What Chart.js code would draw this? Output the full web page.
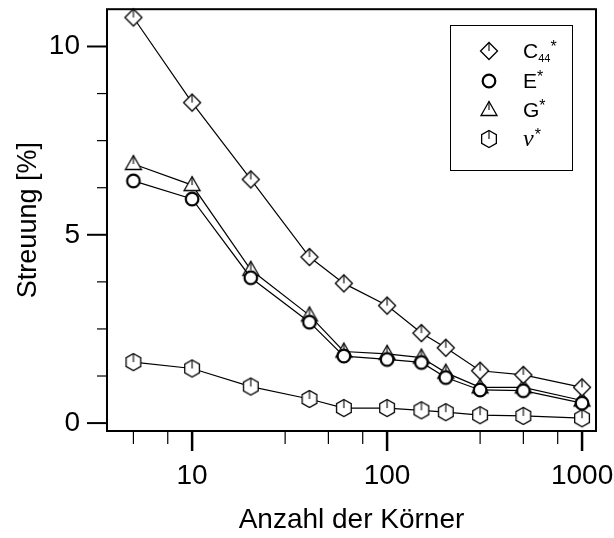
<!DOCTYPE html>
<html>
<head>
<meta charset="utf-8">
<script src="https://cdn.jsdelivr.net/npm/chart.js@4"></script>
<style>
  html, body { margin: 0; padding: 0; background: #fff; }
  #wrap { width: 614px; height: 538px; }
</style>
</head>
<body>
<div id="wrap"><canvas id="chart" width="614" height="538"></canvas></div>
<script>
// grain counts (x) and relative spread in percent for each quantity
const grainCounts = [5, 10, 20, 40, 60, 100, 150, 200, 300, 500, 1000];
const c44Spread = [10.77, 8.51, 6.47, 4.41, 3.71, 3.12, 2.39, 2.0, 1.39, 1.28, 0.95];
const eSpread = [6.43, 5.95, 3.86, 2.68, 1.78, 1.69, 1.61, 1.21, 0.88, 0.86, 0.53];
const gSpread = [6.88, 6.32, 4.07, 2.86, 1.90, 1.84, 1.74, 1.34, 0.95, 0.95, 0.60];
const nuSpread = [1.62, 1.45, 0.97, 0.64, 0.40, 0.40, 0.34, 0.29, 0.21, 0.19, 0.13];

const xMajorTicks = [10, 100, 1000];
const xMinorTicks = [5, 7.5, 30, 50, 75, 300, 500, 750];
const yMajorTicks = [0, 5, 10];
const yMinorTicks = [1.25, 2.5, 3.75, 6.25, 7.5, 8.75];

const FONT = "'Liberation Sans', Arial, Helvetica, sans-serif";

// hollow marker glyphs, rendered once and used as point styles
function makeMarker(kind) {
  const s = 24, c = s / 2;
  const cv = document.createElement('canvas');
  cv.width = s; cv.height = s;
  const g = cv.getContext('2d');
  g.fillStyle = '#fff';
  g.strokeStyle = '#000';
  g.lineWidth = 1.3;
  g.beginPath();
  let top = c;
  if (kind === 'diamond') {
    const r = 8.5;
    g.moveTo(c, c - r); g.lineTo(c + r, c); g.lineTo(c, c + r); g.lineTo(c - r, c);
    top = c - r;
  } else if (kind === 'circle') {
    g.lineWidth = 2.2;
    g.arc(c, c, 6.3, 0, Math.PI * 2);
  } else if (kind === 'triangle') {
    g.moveTo(c, c - 8.5); g.lineTo(c + 8, c + 5.5); g.lineTo(c - 8, c + 5.5);
    top = c - 8.5;
  } else {
    const r = 8.5;
    for (let i = 0; i < 6; i++) {
      const a = (-90 + 60 * i) * Math.PI / 180;
      const px = c + r * Math.cos(a), py = c + r * Math.sin(a);
      if (i === 0) g.moveTo(px, py); else g.lineTo(px, py);
    }
    top = c - r;
  }
  g.closePath();
  g.fill();
  g.stroke();
  if (kind !== 'circle') {
    g.beginPath();
    g.lineWidth = 1.1;
    g.moveTo(c, top);
    g.lineTo(c, c);
    g.stroke();
  }
  return cv;
}

const markers = {
  c44: makeMarker('diamond'),
  e: makeMarker('circle'),
  g: makeMarker('triangle'),
  nu: makeMarker('hexagon')
};

function series(label, values, marker) {
  return {
    label,
    data: grainCounts.map((x, i) => ({ x, y: values[i] })),
    borderColor: '#000',
    borderWidth: 1.2,
    backgroundColor: '#fff',
    pointStyle: marker,
    pointRadius: 8,
    pointHoverRadius: 8,
    tension: 0,
    fill: false,
    clip: false
  };
}

// fixed axis boxes so the plot frame sits where it should
function fixBox(size, key) {
  return s => {
    s[key] = size;
    s.paddingTop = 0; s.paddingBottom = 0;
    s.paddingLeft = 0; s.paddingRight = 0;
  };
}

// frame, tick marks on the outside, and the boxed legend
const framePlugin = {
  id: 'frame',
  afterDraw(chart) {
    const { ctx, chartArea: a, scales: { x, y } } = chart;
    ctx.save();
    ctx.strokeStyle = '#000';
    ctx.lineWidth = 2;
    ctx.strokeRect(a.left, a.top, a.right - a.left, a.bottom - a.top);

    const tick = (x1, y1, x2, y2, w) => {
      ctx.lineWidth = w;
      ctx.beginPath(); ctx.moveTo(x1, y1); ctx.lineTo(x2, y2); ctx.stroke();
    };
    xMajorTicks.forEach(v => { const px = x.getPixelForValue(v); tick(px, a.bottom, px, a.bottom + 20, 2.5); });
    xMinorTicks.forEach(v => { const px = x.getPixelForValue(v); tick(px, a.bottom, px, a.bottom + 13, 1.2); });
    yMajorTicks.forEach(v => { const py = y.getPixelForValue(v); tick(a.left - 20, py, a.left, py, 2); });
    yMinorTicks.forEach(v => { const py = y.getPixelForValue(v); tick(a.left - 10, py, a.left, py, 1.2); });

    // legend
    const bx = 450, by = 25, bw = 122, bh = 145;
    ctx.lineWidth = 1;
    ctx.fillStyle = '#fff';
    ctx.fillRect(bx, by, bw, bh);
    ctx.strokeRect(bx + 0.5, by + 0.5, bw, bh);
    const rows = [
      { m: markers.c44, y: 51 },
      { m: markers.e, y: 81 },
      { m: markers.g, y: 110 },
      { m: markers.nu, y: 139 }
    ];
    rows.forEach(r => ctx.drawImage(r.m, 489 - 12, r.y - 12));

    ctx.fillStyle = '#000';
    ctx.textBaseline = 'alphabetic';
    ctx.textAlign = 'left';
    const tx = 523;
    ctx.font = '21px ' + FONT;
    ctx.fillText('C', tx, 58);
    let w = ctx.measureText('C').width;
    ctx.font = '11px ' + FONT;
    ctx.fillText('44', tx + w, 62);
    const w2 = ctx.measureText('44').width;
    ctx.font = '16px ' + FONT;
    ctx.fillText('*', tx + w + w2, 52);

    ctx.font = '21px ' + FONT;
    ctx.fillText('E', tx, 88);
    w = ctx.measureText('E').width;
    ctx.font = '16px ' + FONT;
    ctx.fillText('*', tx + w, 82);

    ctx.font = '21px ' + FONT;
    ctx.fillText('G', tx, 117);
    w = ctx.measureText('G').width;
    ctx.font = '16px ' + FONT;
    ctx.fillText('*', tx + w, 111);

    ctx.font = "italic 24px 'Liberation Serif', 'Times New Roman', serif";
    ctx.fillText('ν', tx, 146);
    w = ctx.measureText('ν').width;
    ctx.font = '16px ' + FONT;
    ctx.fillText('*', tx + w + 1, 140);
    ctx.restore();
  }
};

new Chart(document.getElementById('chart'), {
  type: 'line',
  data: {
    datasets: [
      series('C44*', c44Spread, markers.c44),
      series('E*', eSpread, markers.e),
      series('G*', gSpread, markers.g),
      series('ν*', nuSpread, markers.nu)
    ]
  },
  options: {
    responsive: false,
    animation: false,
    events: [],
    layout: { padding: { left: 0, right: 18, top: 5, bottom: 0 } },
    plugins: {
      legend: { display: false },
      tooltip: { enabled: false }
    },
    scales: {
      x: {
        type: 'logarithmic',
        position: 'bottom',
        min: 3.66,
        max: 1179,
        afterBuildTicks: s => { s.ticks = xMajorTicks.map(v => ({ value: v })); },
        afterFit: fixBox(107, 'height'),
        grid: { display: true, drawOnChartArea: false, drawTicks: true, tickLength: 20, color: 'transparent', tickColor: 'transparent' },
        border: { display: false },
        ticks: {
          color: '#000',
          font: { family: FONT, size: 28 },
          padding: 8,
          maxRotation: 0,
          autoSkip: false,
          callback: v => String(v)
        },
        title: {
          display: true,
          text: 'Anzahl der Körner',
          color: '#000',
          font: { family: FONT, size: 28 },
          padding: { top: 0, bottom: 1 }
        }
      },
      y: {
        type: 'linear',
        min: -0.21,
        max: 10.99,
        afterBuildTicks: s => { s.ticks = yMajorTicks.map(v => ({ value: v })); },
        afterFit: fixBox(107, 'width'),
        grid: { display: true, drawOnChartArea: false, drawTicks: true, tickLength: 20, color: 'transparent', tickColor: 'transparent' },
        border: { display: false },
        ticks: {
          color: '#000',
          font: { family: FONT, size: 28 },
          padding: 7,
          callback: v => String(v)
        },
        title: {
          display: true,
          text: 'Streuung [%]',
          color: '#000',
          font: { family: FONT, size: 27 },
          padding: { top: 12, bottom: 0 }
        }
      }
    }
  },
  plugins: [framePlugin]
});
</script>
</body>
</html>
